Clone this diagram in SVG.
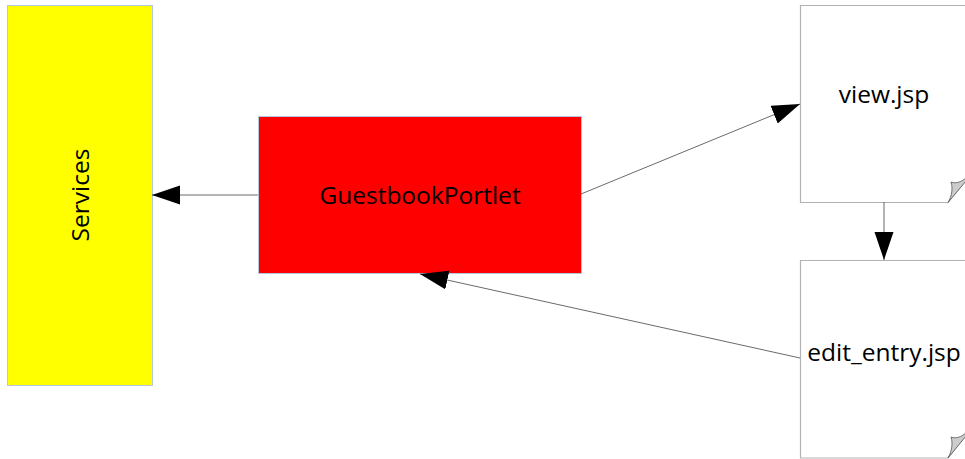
<svg xmlns="http://www.w3.org/2000/svg" width="965" height="459" viewBox="0 0 965 459">
  <style>
    .lbl { font-family: "Open Sans", "Noto Sans", sans-serif; font-size: 24.5px; fill: #000; text-anchor: middle; }
    .box { stroke: #b4c7dc; stroke-width: 1; }
    .page { fill: #fff; stroke: #b3b3b3; stroke-width: 1.2; }
    .curl { fill: #cccccc; stroke: #555; stroke-width: 0.8; }
    .conn { fill: none; stroke: #444; stroke-width: 0.8; marker-end: url(#arrow); }
  </style>
  <defs>
    <marker id="arrow" markerUnits="userSpaceOnUse" markerWidth="30" markerHeight="20" refX="28" refY="9.5" orient="auto">
      <path d="M0,0 L28,9.5 L0,19 Z" fill="#000"/>
    </marker>
  </defs>
  <rect width="965" height="459" fill="#fff"/>

  <g id="services">
    <rect class="box" x="7.5" y="5.5" width="145" height="380" fill="#ffff00"/>
    <text class="lbl" transform="translate(89,195) rotate(-90)">Services</text>
  </g>

  <g id="guestbook-portlet">
    <rect class="box" x="258.5" y="116.5" width="323" height="157" fill="#ff0000"/>
    <text class="lbl" x="420" y="204">GuestbookPortlet</text>
  </g>

  <g id="view-jsp">
    <path class="page" d="M800.5,5.5 H966 V180 L948,202.5 H800.5 Z"/>
    <path class="curl" d="M948,202.5 C952,196 953,188 951,182 C956,184 961,182 966,178 L966,181 Z"/>
    <text class="lbl" x="884" y="103">view.jsp</text>
  </g>

  <g id="edit-entry-jsp">
    <path class="page" d="M800.5,260.5 H966 V435 L948,458 H800.5 Z"/>
    <path class="curl" d="M948,458 C952,451 953,443 951,437 C956,439 961,437 966,433 L966,436 Z"/>
    <text class="lbl" x="884" y="361">edit_entry.jsp</text>
  </g>

  <g id="connectors">
    <line class="conn" x1="258" y1="195" x2="152" y2="195"/>
    <line class="conn" x1="581" y1="194" x2="800" y2="104"/>
    <line class="conn" x1="884" y1="202" x2="884" y2="260"/>
    <line class="conn" x1="800" y1="358" x2="420" y2="274"/>
  </g>
</svg>
